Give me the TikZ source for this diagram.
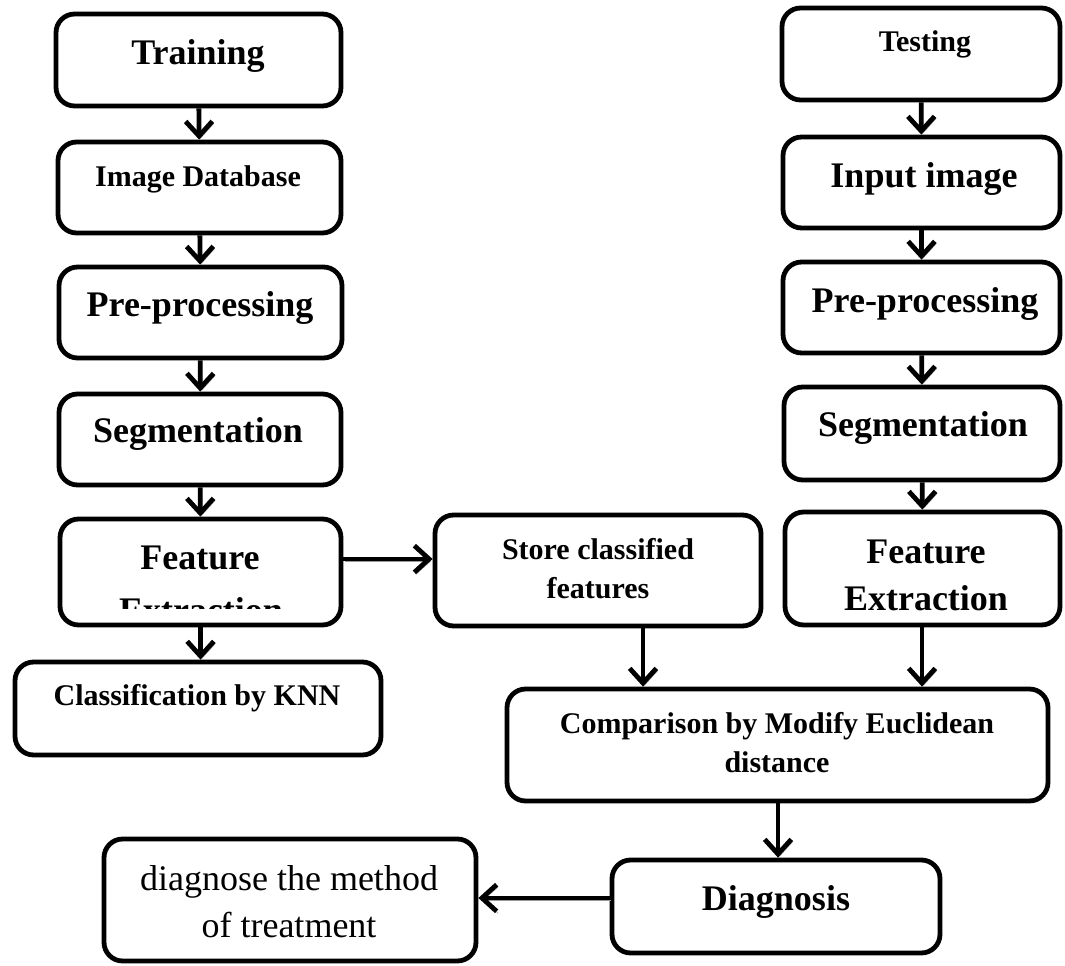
\documentclass[tikz,border=0pt]{standalone}
\usepackage{fontspec}
\setmainfont{Liberation Serif}
\usetikzlibrary{arrows.meta,fit}
\begin{document}
\begin{tikzpicture}[x=0.75pt,y=-0.75pt,
 box/.style={draw=black,line width=3.6pt,rounded corners=14pt,inner sep=0pt},
 lbl/.style={anchor=base,inner sep=0pt,font=\bfseries\fontsize{27pt}{32pt}\selectfont},
 lbls/.style={anchor=base,inner sep=0pt,font=\bfseries\fontsize{22.5pt}{27pt}\selectfont},
 lblr/.style={anchor=base,inner sep=0pt,font=\fontsize{27pt}{32pt}\selectfont},
 arr/.style={line width=3.6pt,-{Straight Barb[length=11pt,width=20pt,line width=3.6pt]},
   preaction={draw=black!40,transform canvas={shift={(1.2pt,-1.6pt)}}}}]
\useasboundingbox (0,0) rectangle (1065,966);

% boxes
\node[box,fit={(56,14) (341,106)}] (tr) {};
\node[box,fit={(58,142) (341,233)}] (db) {};
\node[box,fit={(59,267) (342,358)}] (pl) {};
\node[box,fit={(59,394) (341,485)}] (sl) {};
\node[box,fit={(60,519) (341,625)}] (fel) {};
\node[box,fit={(15,662) (381,755)}] (knn) {};
\node[box,fit={(435,515) (761,626)}] (st) {};
\node[box,fit={(782,8) (1060,100)}] (te) {};
\node[box,fit={(783,137) (1060,228)}] (in) {};
\node[box,fit={(783,262) (1060,353)}] (pr) {};
\node[box,fit={(784,387) (1060,480)}] (sr) {};
\node[box,fit={(785,512) (1060,625)}] (fer) {};
\node[box,fit={(507,689) (1048,801)}] (cmp) {};
\node[box,fit={(612,860) (940,953)}] (dg) {};
\node[box,fit={(104,839) (476,961)}] (dx) {};

% texts
\node[lbl] (trT) at (198,65) {Training};
\node[lbls] (dbT) at (198,187) {Image Database};
\node[lbl] (plT) at (200,317) {Pre-processing};
\node[lbl] (slT) at (198,443) {Segmentation};
\node[lbl] (felT1) at (200,569) {Feature};
\begin{scope}
\clip (60,519) rectangle (341,608);
\node[lbl] (felT2) at (201,622) {Extraction};
\end{scope}
\node[lbls] (knnT) at (197,705) {Classification by KNN};
\node[lbls] (stT1) at (598,560) {Store classified};
\node[lbls] (stT2) at (598,598) {features};
\node[lbls] (teT) at (925,52) {Testing};
\node[lbl] (inT) at (924,188) {Input image};
\node[lbl] (prT) at (925,313) {Pre-processing};
\node[lbl] (srT) at (923,437) {Segmentation};
\node[lbl] (ferT1) at (926,563) {Feature};
\node[lbl] (ferT2) at (926,610) {Extraction};
\node[lbls] (cmpT1) at (777,733) {Comparison by Modify Euclidean};
\node[lbls] (cmpT2) at (777,772) {distance};
\node[lbl] (dgT) at (776,910) {Diagnosis};
\node[lblr] (dxT1) at (289,890) {diagnose the method};
\node[lblr] (dxT2) at (289,937) {of treatment};

% connectors
\draw[arr] (tr) -- (db);
\draw[arr] (db) -- (pl);
\draw[arr] (pl) -- (sl);
\draw[arr] (sl) -- (fel);
\draw[arr] (fel.south) -- (fel.south |- knn.north);
\draw[arr] (fel.east |- 0,559) -- (st.west |- 0,559);
\draw[arr] (te) -- (in);
\draw[arr] (in) -- (pr);
\draw[arr] (pr) -- (sr);
\draw[arr] (sr) -- (fer);
\draw[arr] (st.south -| 643,0) -- (cmp.north -| 643,0);
\draw[arr] (fer.south -| 922,0) -- (cmp.north -| 922,0);
\draw[arr] (cmp.south -| 778,0) -- (dg.north -| 778,0);
\draw[arr] (dg.west |- 0,898) -- (dx.east |- 0,898);
\end{tikzpicture}
\end{document}
